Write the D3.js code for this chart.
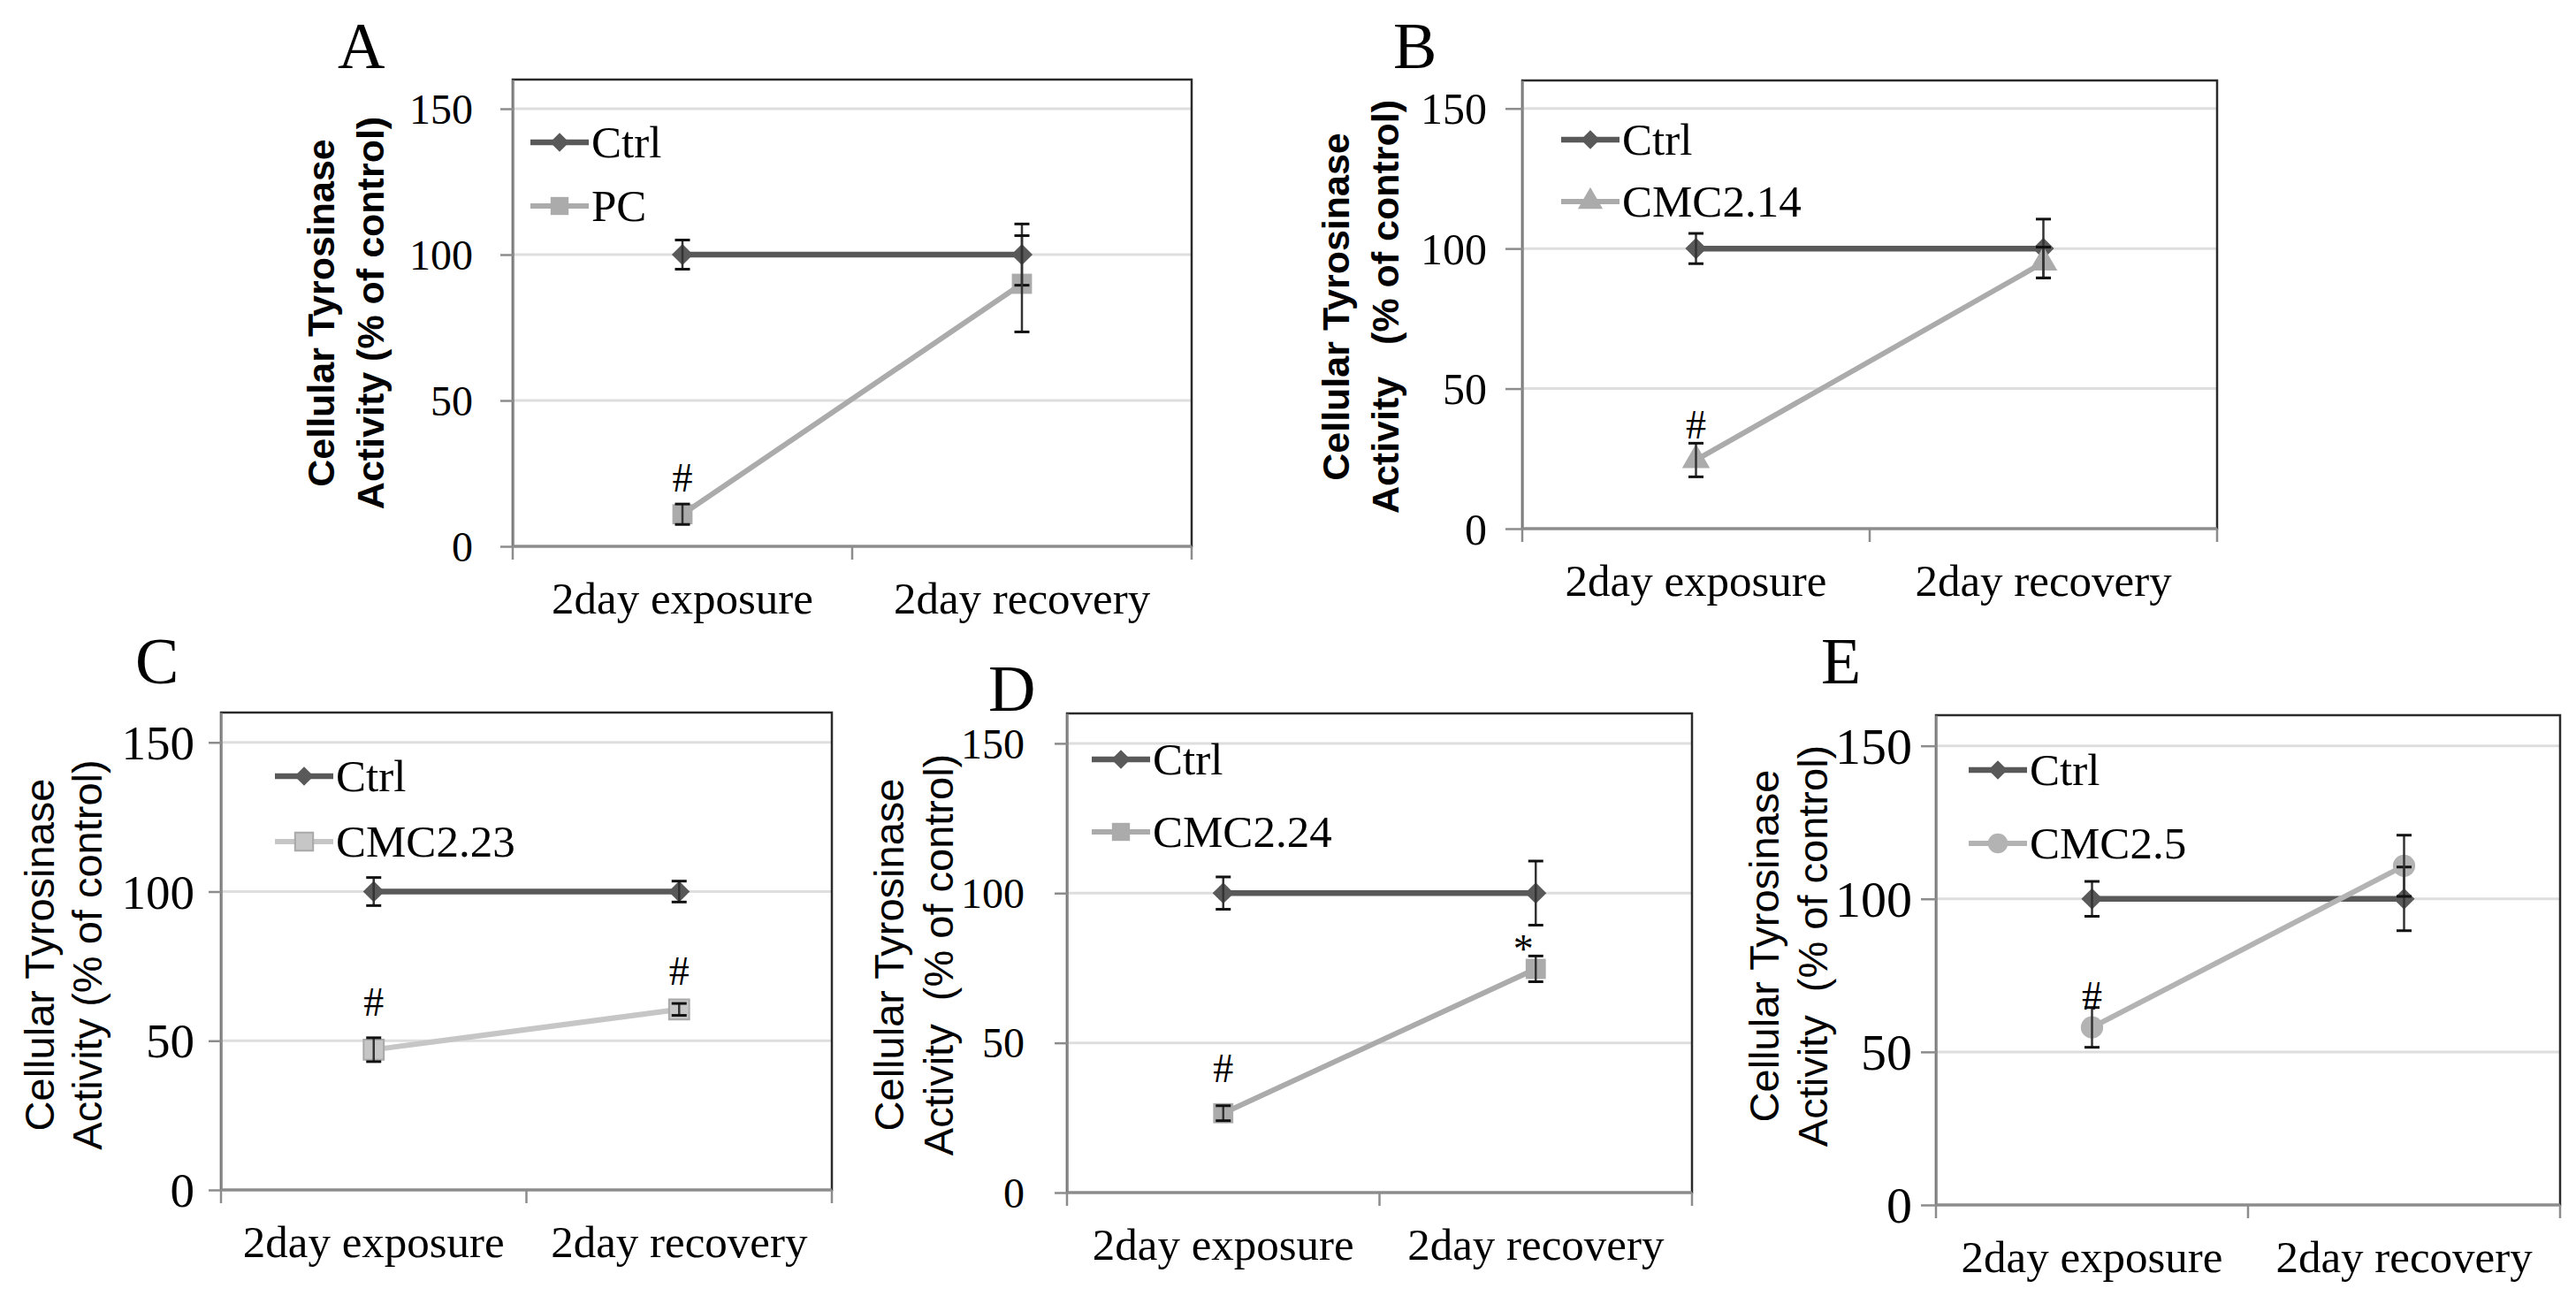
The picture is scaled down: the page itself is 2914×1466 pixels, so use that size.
<!DOCTYPE html>
<html><head><meta charset="utf-8">
<script src="https://cdn.jsdelivr.net/npm/d3@7"></script>
<style>body{margin:0;background:#fff}svg{display:block}</style>
</head><body>
<svg id="c" width="2914" height="1466"></svg>
<script>
// ---------- data ----------
const categories = ["2day exposure", "2day recovery"];
const yTicks = [0, 50, 100, 150];
const panelLetters = ["A", "B", "C", "D", "E"];
const ctrlName = "Ctrl";
const treatmentNames = ["PC", "CMC2.14", "CMC2.23", "CMC2.24", "CMC2.5"];
const titleLine1 = "Cellular Tyrosinase";
const titleLine2 = ["Activity (% of control)", "Activity\u00a0\u00a0\u00a0(% of control)", "Activity (% of control)", "Activity\u00a0\u00a0(% of control)", "Activity\u00a0\u00a0(% of control)"];
const ctrlMeans = [[100, 100], [100, 100], [100, 100], [100, 100], [100, 100]];
const ctrlErrors = [[5, 10.5], [5.4, 10.5], [4.7, 3.5], [5.4, 10.7], [5.7, 10.4]];
const treatmentMeans = [[11, 90], [24.5, 95], [47, 60.5], [26.5, 74.7], [58, 110.8]];
const treatmentErrors = [[3.5, 16.5], [6, 5.5], [4, 2], [2.5, 4.3], [6.5, 10]];
const significanceMarks = [["#", ""], ["#", ""], ["#", "#"], ["#", "*"], ["#", ""]];
const markValues = [[23.7, null], [37.3, null], [63.2, 73.6], [41.6, 81.4], [68.5, null]];
const treatmentSymbols = ["square", "triangle", "square", "square", "circle"];

// ---------- layout / style ----------
const layout = [
  {L:580, R:1348, T:90, B:618, letter:[382,77], titleX:[363,419], titleY:354, titleFont:43, bold:true, tickLen:14, tickPad:31, tickFont:48, legX:600, legY:[161,233], trtColor:"#ababab", trtStroke:"none", markDx:[0,0]},
  {L:1722, R:2508, T:91, B:598, letter:[1576,77], titleX:[1511,1567], titleY:347, titleFont:43, bold:true, tickLen:19, tickPad:21, tickFont:50, legX:1766, legY:[158,228], trtColor:"#ababab", trtStroke:"none", markDx:[0,0]},
  {L:250, R:941, T:806, B:1346, letter:[153,773], titleX:[45,99], titleY:1080, titleFont:47, bold:false, tickLen:14, tickPad:16, tickFont:55, legX:311, legY:[878,952], trtColor:"#c6c6c6", trtStroke:"#a9a9a9", markDx:[0,0]},
  {L:1207, R:1914, T:807, B:1349, letter:[1118,804], titleX:[1006,1062], titleY:1080, titleFont:47, bold:false, tickLen:14, tickPad:34, tickFont:48, legX:1235, legY:[859,941], trtColor:"#ababab", trtStroke:"none", markDx:[0,-14]},
  {L:2190, R:2896, T:809, B:1363, letter:[2060,773], titleX:[1996,2051], titleY:1070, titleFont:47, bold:false, tickLen:17, tickPad:10, tickFont:58, legX:2227, legY:[871,954], trtColor:"#b3b3b3", trtStroke:"none", markDx:[0,0]}
];
const CTRL_COLOR = "#595959";
const SERIF = "'Liberation Serif','Times New Roman',serif";
const SANS = "'Liberation Sans',Arial,sans-serif";

const svg = d3.select("#c");

function symbolPath(kind, scale) {
  const s = scale || 1;
  if (kind === "diamond") return d3.symbol().type(d3.symbolSquare).size(290 * s)();
  if (kind === "square") return d3.symbol().type(d3.symbolSquare).size(520 * s)();
  if (kind === "triangle") return d3.symbol().type(d3.symbolTriangle).size(430 * s)();
  return d3.symbol().type(d3.symbolCircle).size(500 * s)();
}

panelLetters.forEach((letter, i) => {
  const lay = layout[i];
  const g = svg.append("g");
  const y = d3.scaleLinear().domain([0, 160]).range([lay.B, lay.T]);
  const x = d3.scaleBand().domain(categories).range([lay.L, lay.R]);
  const cx = c => x(c) + x.bandwidth() / 2;

  // gridlines
  g.append("g").selectAll("line").data(yTicks.filter(t => t > 0)).join("line")
    .attr("x1", lay.L).attr("x2", lay.R)
    .attr("y1", d => y(d)).attr("y2", d => y(d))
    .attr("stroke", "#dedede").attr("stroke-width", 3);

  // frame
  g.append("rect").attr("x", lay.L).attr("y", lay.T)
    .attr("width", lay.R - lay.L).attr("height", lay.B - lay.T)
    .attr("fill", "none").attr("stroke", "#2a2a2a").attr("stroke-width", 2.5);

  // y axis
  const ya = g.append("g").attr("transform", `translate(${lay.L},0)`)
    .call(d3.axisLeft(y).tickValues(yTicks).tickFormat(d3.format("d"))
      .tickSize(lay.tickLen).tickSizeOuter(0).tickPadding(lay.tickPad));
  ya.select(".domain").attr("stroke", "#8c8c8c").attr("stroke-width", 2.5);
  ya.selectAll(".tick line").attr("stroke", "#8c8c8c").attr("stroke-width", 2.5);
  ya.selectAll(".tick text").attr("font-family", SERIF).attr("font-size", lay.tickFont)
    .attr("fill", "#000").attr("dy", "0.34em");

  // x axis (labels)
  const xa = g.append("g").attr("transform", `translate(0,${lay.B})`)
    .call(d3.axisBottom(x).tickSize(0).tickPadding(40));
  xa.select(".domain").remove();
  xa.selectAll(".tick text").attr("font-family", SERIF).attr("font-size", 51).attr("fill", "#000");
  // x axis line + boundary ticks
  g.append("line").attr("x1", lay.L).attr("x2", lay.R).attr("y1", lay.B).attr("y2", lay.B)
    .attr("stroke", "#8c8c8c").attr("stroke-width", 3);
  const bounds = [lay.L].concat(categories.map(c => x(c) + x.bandwidth()));
  g.append("g").selectAll("line").data(bounds).join("line")
    .attr("x1", d => d).attr("x2", d => d).attr("y1", lay.B).attr("y2", lay.B + 15)
    .attr("stroke", "#8c8c8c").attr("stroke-width", 2.5);

  // panel letter
  g.append("text").attr("x", lay.letter[0]).attr("y", lay.letter[1])
    .attr("font-family", SERIF).attr("font-size", 74).text(letter);

  // y title
  [titleLine1, titleLine2[i]].forEach((t, k) => {
    g.append("text")
      .attr("transform", `translate(${lay.titleX[k]},${lay.titleY}) rotate(-90)`)
      .attr("text-anchor", "middle").attr("dy", "0.35em")
      .attr("font-family", SANS).attr("font-size", lay.titleFont)
      .attr("font-weight", lay.bold ? "bold" : "normal")
      .attr("fill", "#000").text(t);
  });

  const line = d3.line().x((d, j) => cx(categories[j])).y(d => y(d));
  const series = [
    {name: ctrlName, means: ctrlMeans[i], errs: ctrlErrors[i], color: CTRL_COLOR, sym: "diamond", width: 6.5, stroke: "none"},
    {name: treatmentNames[i], means: treatmentMeans[i], errs: treatmentErrors[i], color: lay.trtColor, sym: treatmentSymbols[i], width: 6, stroke: lay.trtStroke}
  ];

  series.forEach(s => {
    g.append("path").datum(s.means).attr("d", line)
      .attr("fill", "none").attr("stroke", s.color).attr("stroke-width", s.width);
    g.append("g").selectAll("path").data(s.means).join("path")
      .attr("d", symbolPath(s.sym))
      .attr("transform", (d, j) => `translate(${cx(categories[j])},${y(d)})${s.sym === "diamond" ? " rotate(45)" : ""}`)
      .attr("fill", s.color).attr("stroke", s.stroke).attr("stroke-width", 2);
  });
  // error bars on top
  series.forEach(s => {
    const eg = g.append("g");
    s.means.forEach((m, j) => {
      const xx = cx(categories[j]);
      const e = s.errs[j];
      eg.append("line").attr("x1", xx).attr("x2", xx).attr("y1", y(m - e)).attr("y2", y(m + e))
        .attr("stroke", "#333").attr("stroke-width", 2.5);
      [m - e, m + e].forEach(v => {
        eg.append("line").attr("x1", xx - 8.5).attr("x2", xx + 8.5).attr("y1", y(v)).attr("y2", y(v))
          .attr("stroke", "#111").attr("stroke-width", 3);
      });
    });
  });

  // significance marks
  significanceMarks[i].forEach((m, j) => {
    if (!m) return;
    g.append("text").attr("x", cx(categories[j]) + lay.markDx[j]).attr("y", y(markValues[i][j]))
      .attr("dy", "0.35em").attr("text-anchor", "middle")
      .attr("font-family", SERIF).attr("font-size", 46).text(m);
  });

  // legend
  series.forEach((s, k) => {
    const ly = lay.legY[k];
    g.append("line").attr("x1", lay.legX).attr("x2", lay.legX + 66).attr("y1", ly).attr("y2", ly)
      .attr("stroke", s.color).attr("stroke-width", s.width);
    g.append("path").attr("d", symbolPath(s.sym, 0.8))
      .attr("transform", `translate(${lay.legX + 33},${ly})${s.sym === "diamond" ? " rotate(45)" : ""}`)
      .attr("fill", s.color).attr("stroke", s.stroke).attr("stroke-width", 2);
    g.append("text").attr("x", lay.legX + 69).attr("y", ly).attr("dy", "0.33em")
      .attr("font-family", SERIF).attr("font-size", 51).attr("fill", "#000").text(s.name);
  });
});
</script>
</body></html>
